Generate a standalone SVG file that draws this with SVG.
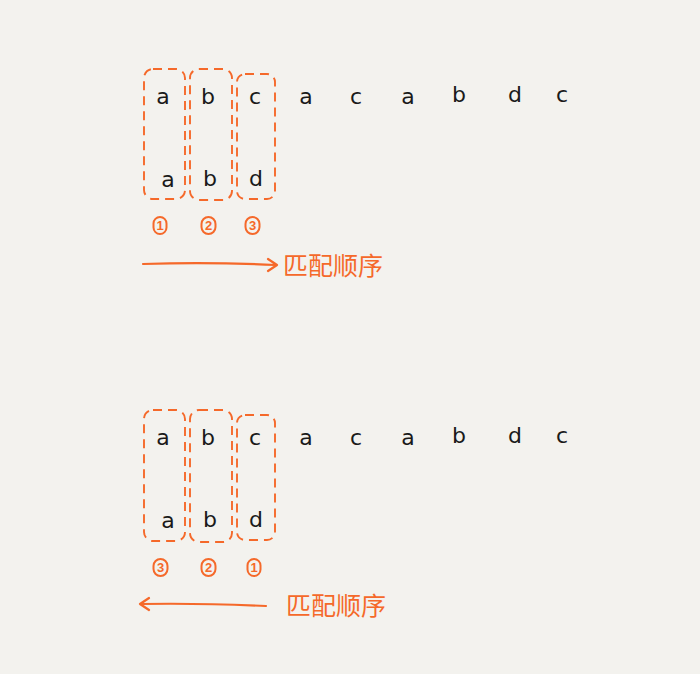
<svg xmlns="http://www.w3.org/2000/svg" width="700" height="674" viewBox="0 0 700 674">
<defs>
<style>
.bg{fill:#f3f2ee}
.box{fill:none;stroke:#f5692a;stroke-width:1.9;stroke-dasharray:9 6}
.ch{font-family:"DejaVu Sans","Noto Sans",sans-serif;font-size:22px;fill:#1a1a1a;text-anchor:middle}
.num{fill:none;stroke:#f5692a;stroke-width:2}
.nt{font-family:"Liberation Sans",sans-serif;font-size:13px;font-weight:bold;fill:#f5692a;text-anchor:middle}
.lbl{font-family:"Noto Sans CJK SC",sans-serif;font-size:25px;fill:#f5692a}
.arr{fill:none;stroke:#f5692a;stroke-width:2.2;stroke-linecap:round;stroke-linejoin:round}
</style>
</defs>
<rect class="bg" x="0" y="0" width="700" height="674"/>

<g id="top">
  <g id="top-box1"><rect class="box" x="144" y="69" width="41" height="130" rx="9"/></g>
  <g id="top-box2"><rect class="box" x="190" y="69" width="42" height="131" rx="9"/></g>
  <g id="top-box3"><rect class="box" x="237" y="74" width="38" height="125" rx="8"/></g>
  <g id="top-main">
    <text class="ch" x="163" y="104">a</text>
    <text class="ch" x="208" y="104">b</text>
    <text class="ch" x="255" y="104">c</text>
    <text class="ch" x="306" y="104">a</text>
    <text class="ch" x="356" y="104">c</text>
    <text class="ch" x="408" y="104">a</text>
    <text class="ch" x="459" y="102">b</text>
    <text class="ch" x="515" y="102">d</text>
    <text class="ch" x="562" y="102">c</text>
  </g>
  <g id="top-pattern">
    <text class="ch" x="168" y="187">a</text>
    <text class="ch" x="210" y="186">b</text>
    <text class="ch" x="256" y="186">d</text>
  </g>
  <g id="top-order">
    <rect class="num" x="153.5" y="217" width="13" height="17" rx="6.5"/><text class="nt" x="160" y="230">1</text>
    <rect class="num" x="201.5" y="217" width="14" height="17" rx="7"/><text class="nt" x="208.5" y="230">2</text>
    <rect class="num" x="245.5" y="217" width="14" height="17" rx="7"/><text class="nt" x="252.5" y="230">3</text>
  </g>
  <g id="top-arrow">
    <path class="arr" d="M143 264 Q210 262 276 265 M268 259 L277 265 L268 271"/>
    <text class="lbl" x="283" y="275">匹配顺序</text>
  </g>
</g>

<g id="bottom">
  <g id="bot-box1"><rect class="box" x="144" y="410" width="41" height="131" rx="9"/></g>
  <g id="bot-box2"><rect class="box" x="190" y="410" width="42" height="132" rx="9"/></g>
  <g id="bot-box3"><rect class="box" x="237" y="415" width="38" height="125" rx="8"/></g>
  <g id="bot-main">
    <text class="ch" x="163" y="445">a</text>
    <text class="ch" x="208" y="445">b</text>
    <text class="ch" x="255" y="445">c</text>
    <text class="ch" x="306" y="445">a</text>
    <text class="ch" x="356" y="445">c</text>
    <text class="ch" x="408" y="445">a</text>
    <text class="ch" x="459" y="443">b</text>
    <text class="ch" x="515" y="443">d</text>
    <text class="ch" x="562" y="443">c</text>
  </g>
  <g id="bot-pattern">
    <text class="ch" x="168" y="528">a</text>
    <text class="ch" x="210" y="527">b</text>
    <text class="ch" x="256" y="527">d</text>
  </g>
  <g id="bot-order">
    <rect class="num" x="153.5" y="559" width="14" height="17" rx="7"/><text class="nt" x="160.5" y="572">3</text>
    <rect class="num" x="201.5" y="559" width="14" height="17" rx="7"/><text class="nt" x="208.5" y="572">2</text>
    <rect class="num" x="247.5" y="559" width="13" height="17" rx="6.5"/><text class="nt" x="254" y="572">1</text>
  </g>
  <g id="bot-arrow">
    <path class="arr" d="M266 606 Q200 603 141 604 M149 598 L140 604 L149 610"/>
    <text class="lbl" x="286" y="615">匹配顺序</text>
  </g>
</g>
</svg>
